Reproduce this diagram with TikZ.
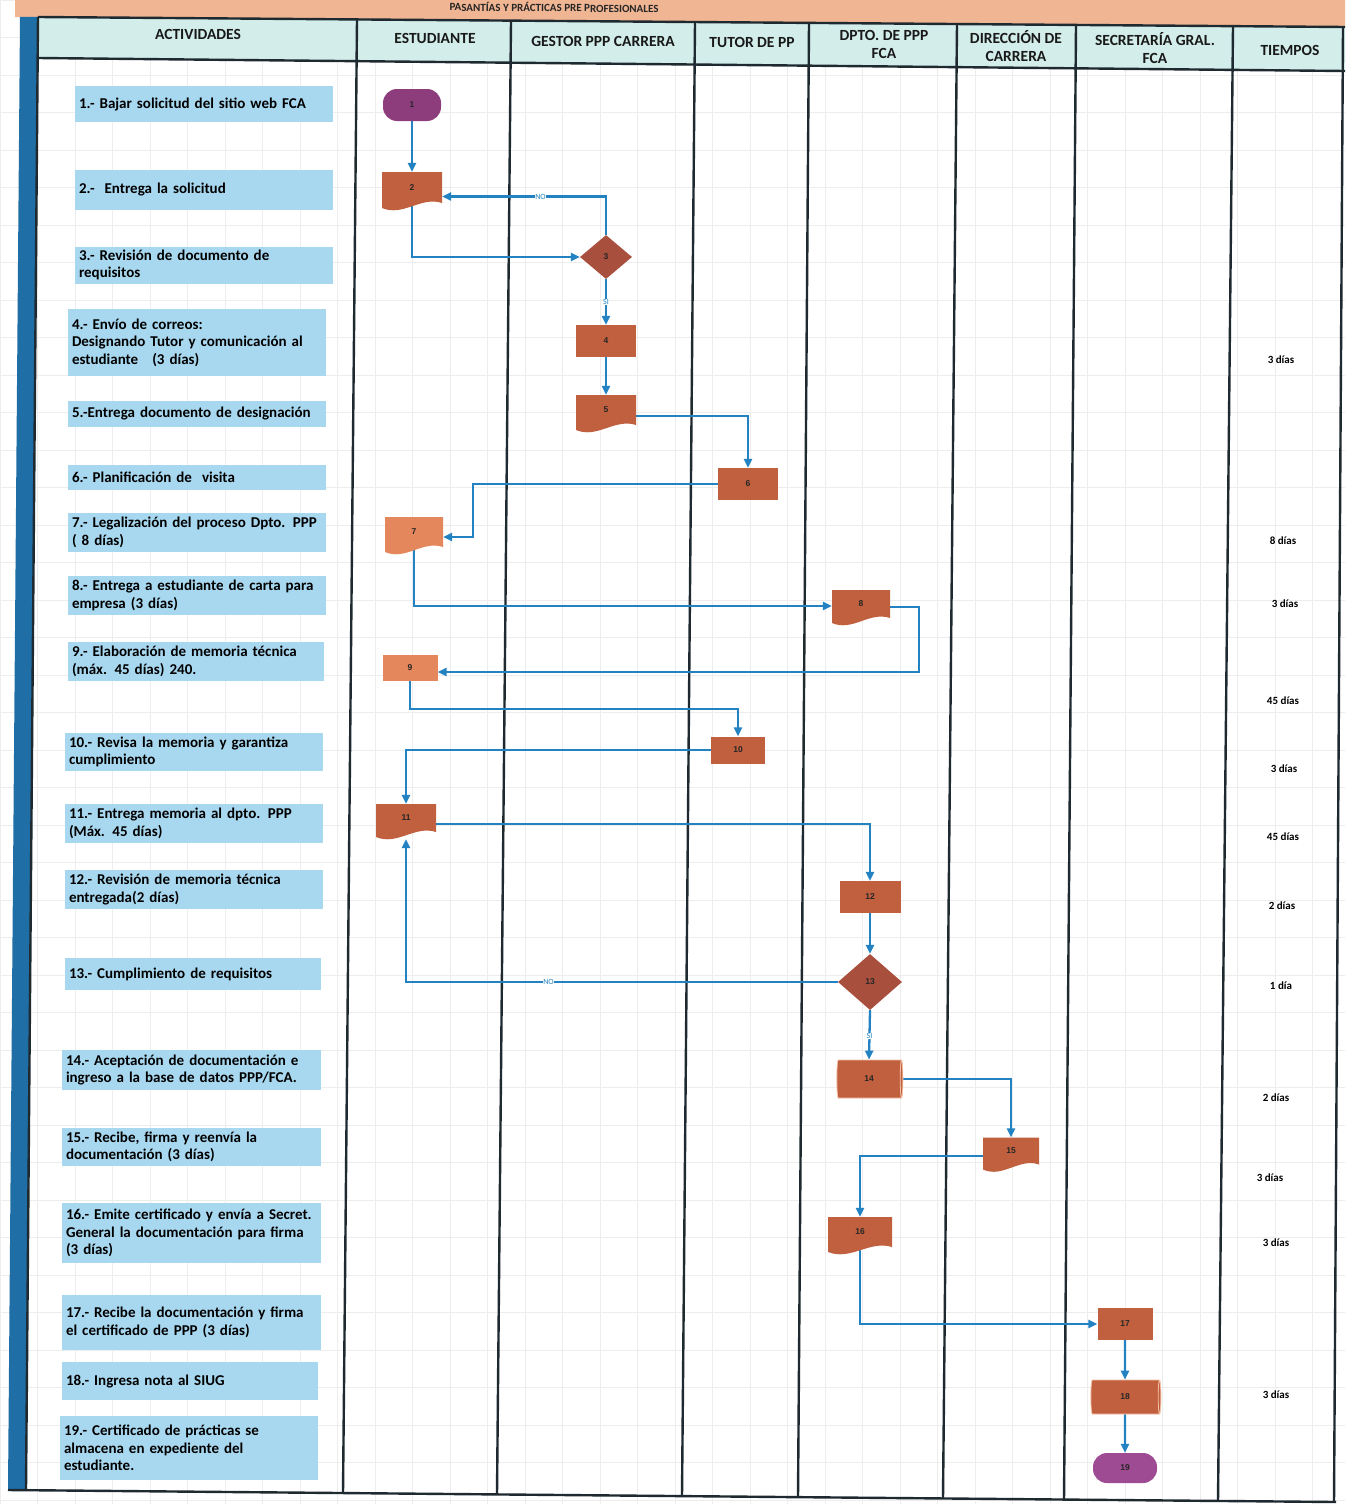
\documentclass[tikz,border=0pt]{standalone}
\usepackage{fontspec}
\setmainfont{Carlito}
\newfontfamily\numfont{Liberation Sans}
\usetikzlibrary{shapes.geometric,arrows.meta,calc}
\pgfdeclarelayer{back}
\pgfdeclarelayer{mid}
\pgfsetlayers{back,mid,main}
\definecolor{procbrown}{HTML}{C0603F}
\definecolor{proclight}{HTML}{E5875C}
\definecolor{diabrown}{HTML}{A94F3E}
\definecolor{termpurple}{HTML}{8E3D7C}
\definecolor{termpurpleb}{HTML}{9E4B93}
\definecolor{flowblue}{HTML}{2382C2}
\definecolor{linedark}{HTML}{1E2A30}
\definecolor{actblue}{HTML}{A8D8F0}
\definecolor{headfill}{HTML}{D3EEEA}
\definecolor{peach}{HTML}{F0B593}
\definecolor{barblue}{HTML}{1F6EA6}
\definecolor{cylline}{HTML}{F4C0A5}
\newcommand{\docshape}[7]{%
  \fill[#6] ({#2-#4/2},{#3-#5/2}) -- ({#2+#4/2},{#3-#5/2}) -- ({#2+#4/2},{#3+#5/2})
    .. controls ({#2+#4*0.15},{#3+#5/2-7}) and ({#2-#4*0.15},{#3+#5/2+14}) .. ({#2-#4/2},{#3+#5/2+5}) -- cycle;
  \node[numlab, minimum width=#4, minimum height=#5] (#1) at (#2,#3) {#7};
}
\begin{document}
\begin{tikzpicture}[x=1pt,y=-1pt,
  act/.style={fill=actblue, text=black, font=\fontsize{15}{17.5}\selectfont\bfseries, align=left, inner xsep=4pt, inner ysep=0pt},
  hdr/.style={font=\fontsize{15.5}{18}\selectfont\bfseries, align=center, text=black!90},
  numlab/.style={font=\numfont\fontsize{8.5}{9}\selectfont\bfseries, text=black!85, inner sep=0pt},
  procbox/.style={numlab, rectangle, fill=procbrown},
  termbox/.style={numlab, rectangle, rounded corners=14pt, fill=termpurple},
  diabox/.style={numlab, diamond, fill=diabrown},
  cylbox/.style={numlab, cylinder, cylinder uses custom fill, cylinder body fill=procbrown, cylinder end fill=procbrown, draw=cylline, line width=0.8pt, shape aspect=0.45},
  flow/.style={draw=flowblue, line width=2.3pt, -{Triangle[length=9pt,width=8pt]}},
  lab/.style={font=\fontsize{8}{9}\selectfont, text=flowblue, fill=white, inner sep=0.6pt},
  tlab/.style={font=\fontsize{11}{12}\selectfont\bfseries, text=black},
  tline/.style={draw=linedark, line width=2.4pt}]
\useasboundingbox (0,0) rectangle (1345,1504);

\begin{pgfonlayer}{back}
  \fill[white] (0,0) rectangle (1345,1504);
  \foreach \gx in {0,37.5,...,1345} {\draw[black!7, line width=0.5pt] (\gx,0) -- (\gx,1504);}
  \foreach \gy in {0,37.5,...,1504} {\draw[black!7, line width=0.5pt] (0,\gy) -- (1345,\gy);}
  % peach title bar
  \fill[peach] (15,0) -- (1345,0) -- (1345,27) -- (15,17) -- cycle;
  \node[font=\fontsize{11}{12}\selectfont\bfseries, text=black!85, anchor=east, rotate=-0.45] (title) at (662,8) {PASANTÍAS Y PRÁCTICAS PRE PROFESIONALES};
  % header fill
  \fill[headfill] (38,17) -- (1345,27) -- (1345,71) -- (38,58) -- cycle;
  % left blue bar
  \fill[barblue] (20,17) -- (38,17) -- (26,1490) -- (8,1490) -- cycle;
  % frame lines
  \draw[tline] (38,17) -- (1345,27);
  \draw[tline] (38,58) -- (1345,71);
  \draw[tline] (8,1490) -- (1336,1502);
  \draw[tline] (38,17) -- (26,1490);
  \draw[tline] (1343,27) -- (1334,1502);
  \draw[tline] (357,19.5) -- (343,1493);
  \draw[tline] (511,20.6) -- (497,1494);
  \draw[tline] (695,22) -- (682,1496);
  \draw[tline] (809,23) -- (798,1497);
  \draw[tline] (957,24) -- (943,1498);
  \draw[tline] (1076,25) -- (1064,1500);
  \draw[tline] (1233,26) -- (1218,1501);
\end{pgfonlayer}

% header labels
\node[hdr] (h1) at (198,34) {ACTIVIDADES};
\node[hdr] (h2) at (435,38) {ESTUDIANTE};
\node[hdr] (h3) at (603,41) {GESTOR PPP CARRERA};
\node[hdr] (h4) at (752,42) {TUTOR DE PP};
\node[hdr] (h5) at (884,44) {DPTO. DE PPP\\FCA};
\node[hdr] (h6) at (1016,46) {DIRECCIÓN DE\\CARRERA};
\node[hdr] (h7) at (1155,48) {SECRETARÍA GRAL.\\FCA};
\node[hdr] (h8) at (1290,50) {TIEMPOS};

% activity boxes
\node[act, text width=250, minimum height=36] (a1) at (204,104) {1.- Bajar solicitud del sitio web FCA};
\node[act, text width=250, minimum height=40] (a2) at (204,190) {2.-\ \ Entrega la solicitud};
\node[act, text width=250, minimum height=37] (a3) at (204,265) {3.- Revisión de documento de\\requisitos};
\node[act, text width=250, minimum height=67] (a4) at (197,342.5) {4.- Envío de correos:\\Designando Tutor y comunicación al\\estudiante\hspace{14pt}(3 días)};
\node[act, text width=250, minimum height=26] (a5) at (197,414) {5.-Entrega documento de designación};
\node[act, text width=250, minimum height=25] (a6) at (197,477.5) {6.- Planificación de\ \ visita};
\node[act, text width=250, minimum height=39] (a7) at (197,532.5) {7.- Legalización del proceso Dpto. PPP\\( 8 días)};
\node[act, text width=250, minimum height=39] (a8) at (197,595.5) {8.- Entrega a estudiante de carta para\\empresa (3 días)};
\node[act, text width=248, minimum height=39] (a9) at (196,661.5) {9.- Elaboración de memoria técnica\\(máx. 45 días) 240.};
\node[act, text width=250, minimum height=38] (a10) at (194,752) {10.- Revisa la memoria y garantiza\\cumplimiento};
\node[act, text width=250, minimum height=39] (a11) at (194,823.5) {11.- Entrega memoria al dpto. PPP\\(Máx. 45 días)};
\node[act, text width=250, minimum height=39] (a12) at (194,889.5) {12.- Revisión de memoria técnica\\entregada(2 días)};
\node[act, text width=248, minimum height=32] (a13) at (193,974) {13.- Cumplimiento de requisitos};
\node[act, text width=251, minimum height=40] (a14) at (191.5,1070) {14.- Aceptación de documentación e\\ingreso a la base de datos PPP/FCA.};
\node[act, text width=251, minimum height=38] (a15) at (191.5,1147) {15.- Recibe, firma y reenvía la\\documentación (3 días)};
\node[act, text width=251, minimum height=60] (a16) at (191.5,1233) {16.- Emite certificado y envía a Secret.\\General la documentación para firma\\(3 días)};
\node[act, text width=251, minimum height=55] (a17) at (191.5,1322.5) {17.- Recibe la documentación y firma\\el certificado de PPP (3 días)};
\node[act, text width=248, minimum height=38] (a18) at (190,1381) {18.- Ingresa nota al SIUG};
\node[act, text width=250, minimum height=64] (a19) at (189,1448) {19.- Certificado de prácticas se\\almacena en expediente del\\estudiante.};

% flow nodes
\node[termbox, minimum width=58, minimum height=32] (n1) at (412,105) {1};
\docshape{n2}{412}{187.5}{60}{31}{procbrown}{2}
\node[diabox, minimum width=52, minimum height=44] (n3) at (606,257) {3};
\node[procbox, minimum width=60, minimum height=32] (n4) at (606,341) {4};
\docshape{n5}{606}{410}{60}{30}{procbrown}{5}
\node[procbox, minimum width=60, minimum height=32] (n6) at (748,484) {6};
\docshape{n7}{414}{532}{58}{30}{proclight}{7}
\docshape{n8}{861}{604}{58}{28}{procbrown}{8}
\node[procbox, fill=proclight, minimum width=55, minimum height=26] (n9) at (410,668) {9};
\node[procbox, minimum width=54, minimum height=27] (n10) at (738,750) {10};
\docshape{n11}{406}{818}{60}{28}{procbrown}{11}
\node[procbox, minimum width=61, minimum height=32] (n12) at (870,897) {12};
\node[diabox, minimum width=64, minimum height=56] (n13) at (870,982) {13};
\node[cylbox, minimum width=38, minimum height=66] (n14) at (869,1079) {14};
\docshape{n15}{1011}{1151}{56}{27}{procbrown}{15}
\docshape{n16}{860}{1232}{64}{30}{procbrown}{16}
\node[procbox, minimum width=55, minimum height=32] (n17) at (1125,1324) {17};
\node[cylbox, minimum width=34, minimum height=70] (n18) at (1125,1397) {18};
\node[termbox, fill=termpurpleb, minimum width=64, minimum height=30] (n19) at (1125,1468) {19};

% connectors
\begin{pgfonlayer}{mid}
  \draw[flow] (n1.south) -- (n2.north);
  \draw[flow] (n2.south) |- (n3.west);
  \draw[flow] (n3.north) |- node[lab, pos=0.7] {NO} ($(n2.east)+(0,9)$);
  \draw[flow] (n3.south) -- node[lab] {SI} (n4.north);
  \draw[flow] (n4.south) -- (n5.north);
  \draw[flow] ($(n5.east)+(0,6)$) -| (n6.north);
  \draw[flow] (n6.west) -| ($(n7.east)+(30,5)$) -- ($(n7.east)+(0,5)$);
  \draw[flow] (n7.south) |- ($(n8.west)+(0,2)$);
  \draw[flow] ($(n8.east)+(0,3)$) -- ++(29,0) |- ($(n9.east)+(0,4)$);
  \draw[flow] (n9.south) -- ++(0,28) -| (n10.north);
  \draw[flow] (n10.west) -| (n11.north);
  \draw[flow] ($(n11.east)+(0,6)$) -| (n12.north);
  \draw[flow] (n12.south) -- (n13.north);
  \draw[flow] (n13.west) -| node[lab, pos=0.335] {NO} ($(n11.south)+(0,7)$);
  \draw[flow] (n13.south) -- node[lab, pos=0.52] {SI} (n14.north);
  \draw[flow] (n14.east) -| (n15.north);
  \draw[flow] ($(n15.west)+(0,5)$) -| (n16.north);
  \draw[flow] (n16.south) |- (n17.west);
  \draw[flow] (n17.south) -- (n18.north);
  \draw[flow] (n18.south) -- (n19.north);
\end{pgfonlayer}

% times
\node[tlab] (t4) at (1281,360) {3 días};
\node[tlab] (t7) at (1283,541) {8 días};
\node[tlab] (t8) at (1285,604) {3 días};
\node[tlab] (t9) at (1283,701) {45 días};
\node[tlab] (t10) at (1284,769) {3 días};
\node[tlab] (t11) at (1283,837) {45 días};
\node[tlab] (t12) at (1282,906) {2 días};
\node[tlab] (t13) at (1281,986) {1 día};
\node[tlab] (t14) at (1276,1098) {2 días};
\node[tlab] (t15) at (1270,1178) {3 días};
\node[tlab] (t16) at (1276,1243) {3 días};
\node[tlab] (t18) at (1276,1395) {3 días};
\end{tikzpicture}
\end{document}
